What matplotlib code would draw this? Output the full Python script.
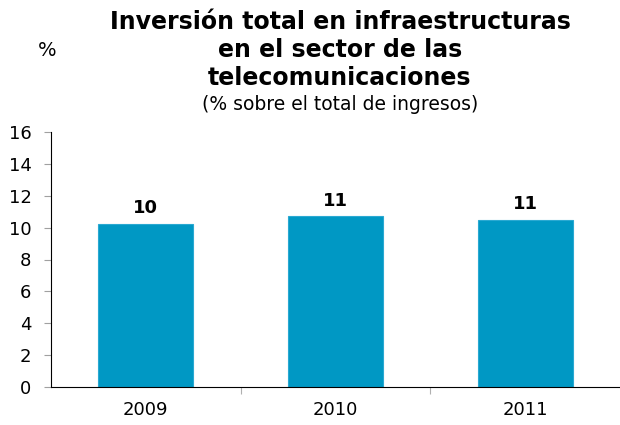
import matplotlib
matplotlib.use('Agg')
import matplotlib.pyplot as plt

years = ['2009', '2010', '2011']
values = [10.2, 10.7, 10.5]
labels = ['10', '11', '11']

plt.rcParams['font.family'] = ['DejaVu Sans']

f = plt.figure(figsize=(6.2, 4.25), dpi=100)
ax = f.add_axes([51 / 620, 1 - 387 / 425, 1 - 51 / 620, 255 / 425])

x = range(len(years))
bars = ax.bar(x, values, width=0.5, color='#0098c4', edgecolor='#2aa9d2', lw=0.8)
for b, l in zip(bars, labels):
  ax.annotate(l, (b.get_x() + b.get_width() / 2, b.get_height()),
              xytext=(0, 5), textcoords='offset points',
              ha='center', va='bottom', fontsize=13, fontweight='bold')

ax.set_xlim(-0.5, 2.5)
ax.set_ylim(0, 16)
ax.set_yticks(range(0, 17, 2))
ax.set_xticks(x)
ax.set_xticklabels(years)
ax.set_xticks([0.5, 1.5], minor=True)
ax.tick_params(axis='x', which='major', length=0, labelsize=13, pad=10)
ax.tick_params(axis='x', which='minor', length=5, color='#b0b0b0', width=0.8)
ax.tick_params(axis='y', length=5, color='#a0a0a0', labelsize=13, pad=9)

for s in ['top', 'right']:
  ax.spines[s].set_visible(False)
ax.spines['left'].set_color('black')
ax.spines['bottom'].set_color('black')
ax.spines['left'].set_linewidth(0.8)
ax.spines['bottom'].set_linewidth(0.8)

f.text(340 / 620, 1 - 50 / 425,
       'Inversión total en infraestructuras\nen el sector de las\ntelecomunicaciones',
       ha='center', va='center', fontsize=17, fontweight='bold', linespacing=1.2)
f.text(340 / 620, 1 - 105 / 425, '(% sobre el total de ingresos)',
       ha='center', va='center', fontsize=13.5)
f.text(47 / 620, 1 - 50 / 425, '%', ha='center', va='center', fontsize=14)

plt.savefig('out.png', dpi=100)
